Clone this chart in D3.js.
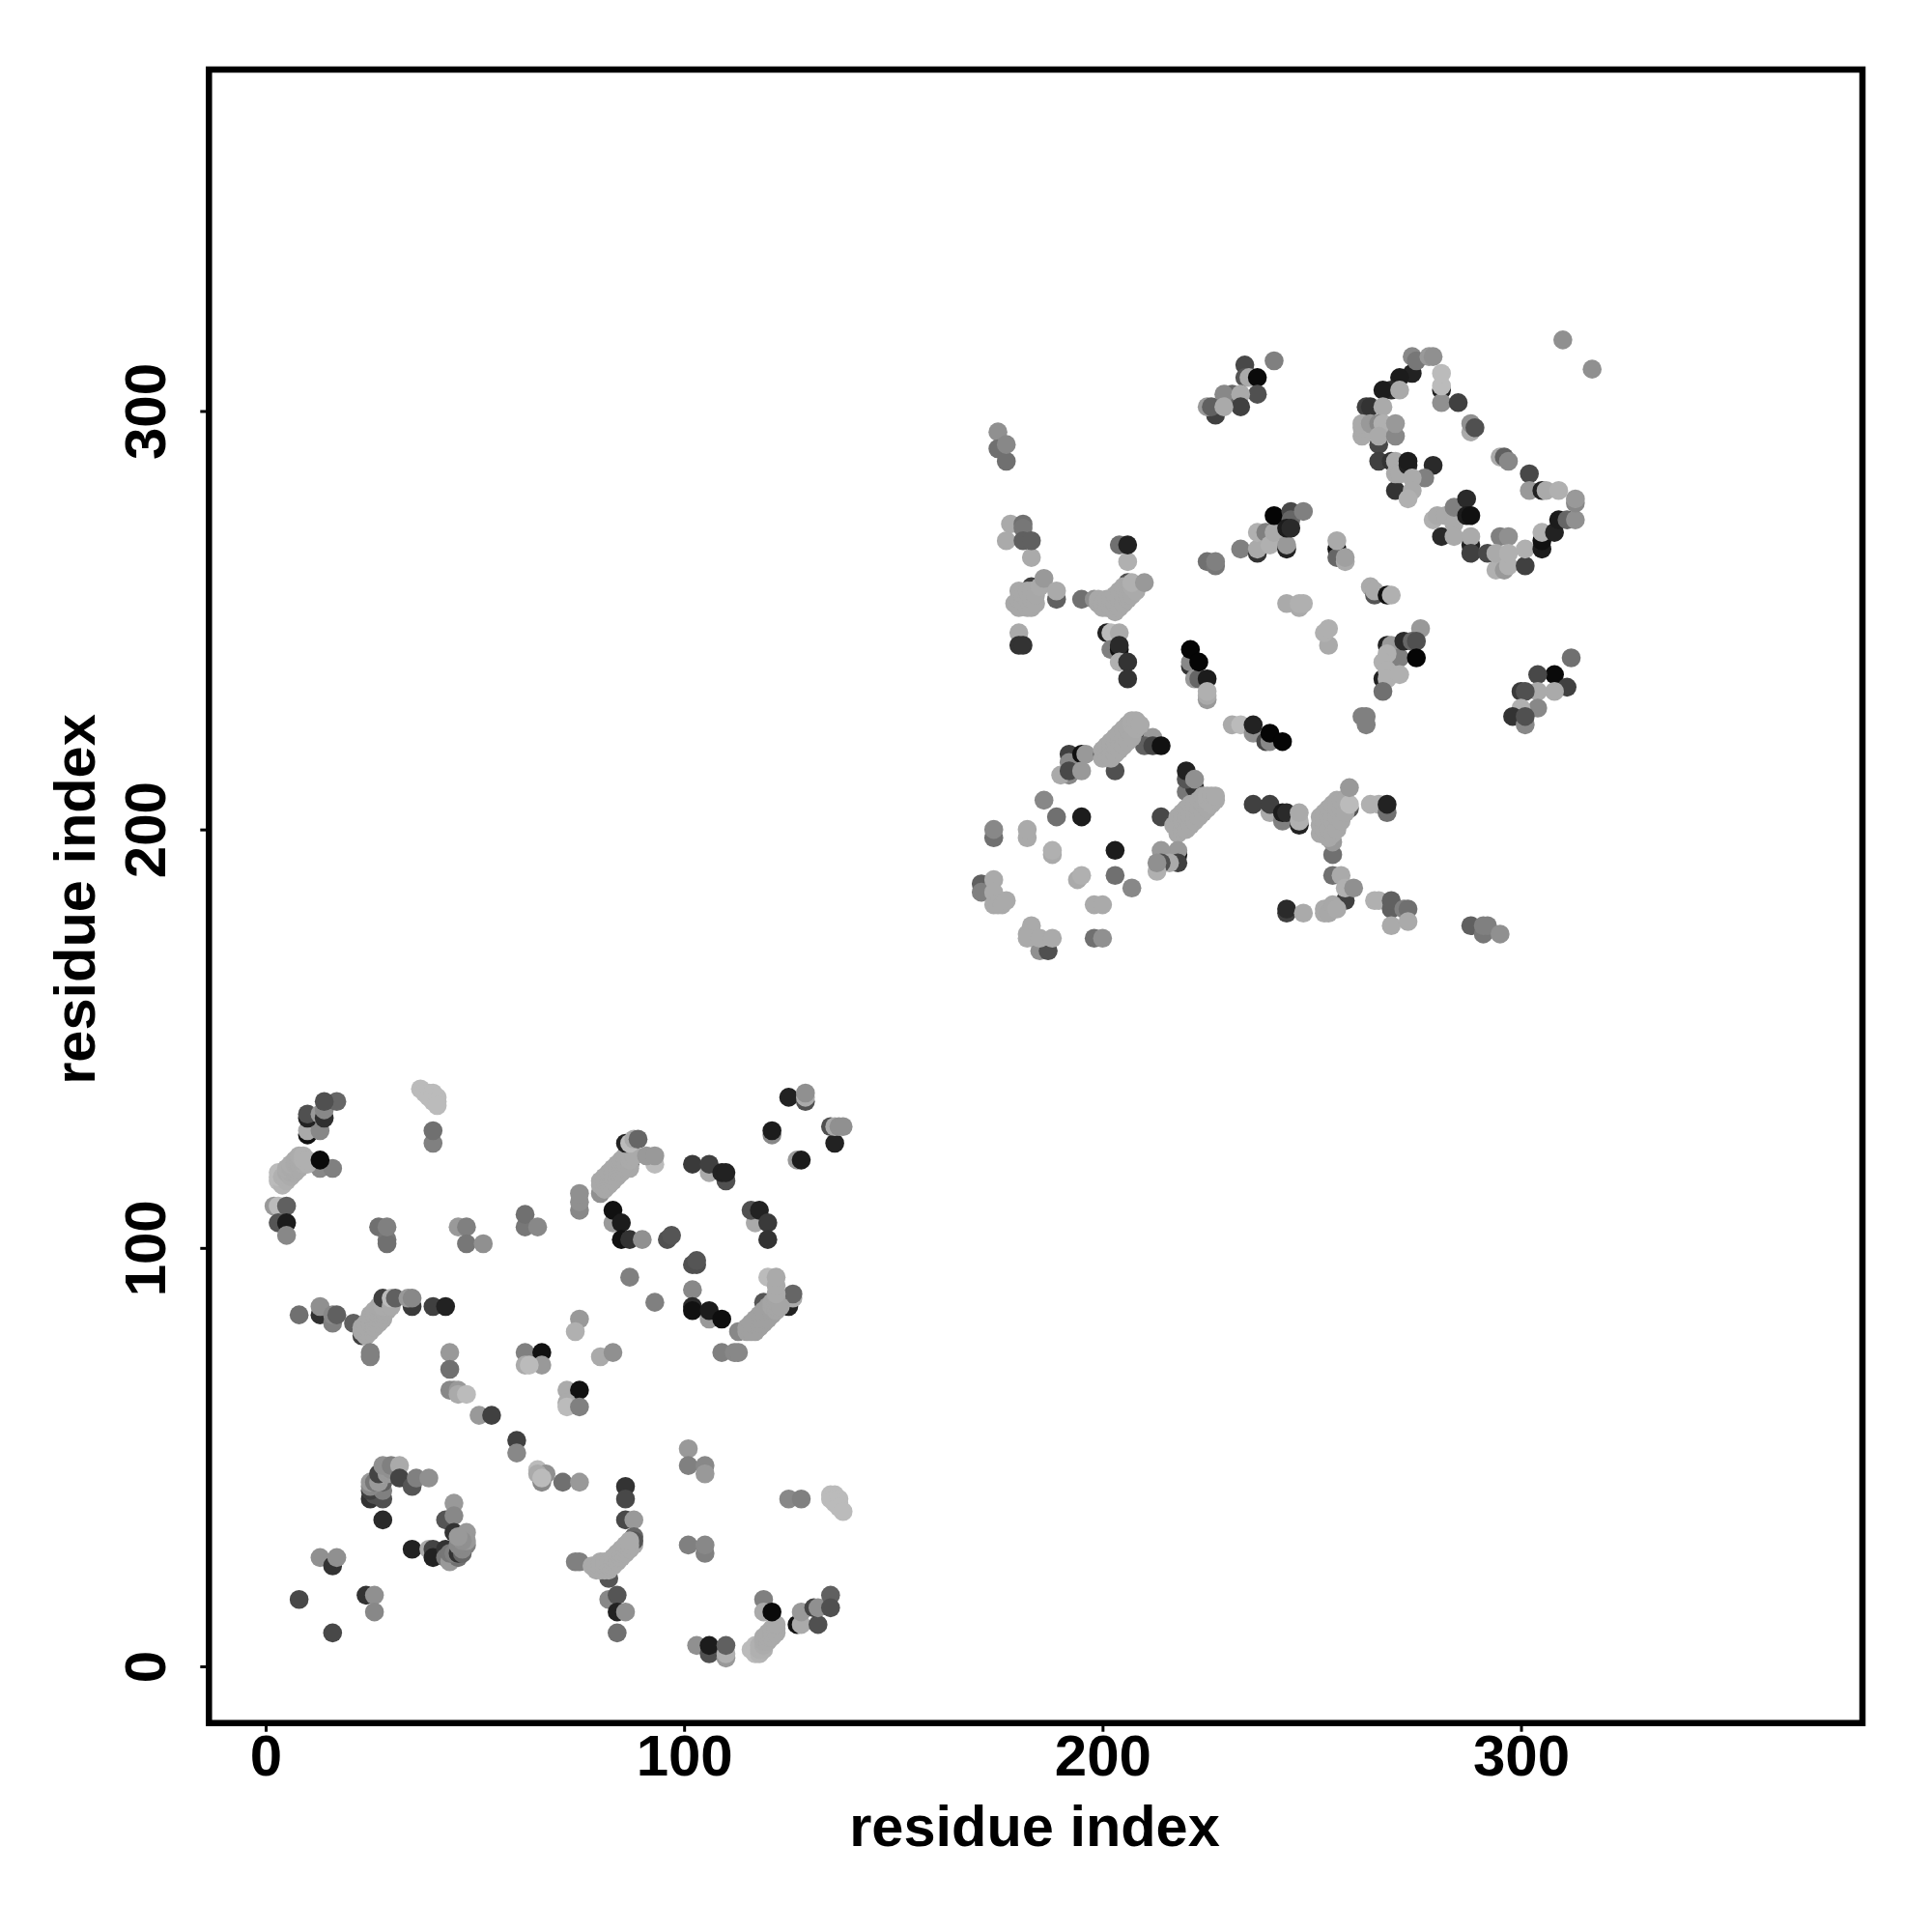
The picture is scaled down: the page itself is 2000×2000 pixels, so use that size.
<!DOCTYPE html>
<html><head><meta charset="utf-8">
<script src="https://cdn.jsdelivr.net/npm/d3@7/dist/d3.min.js"></script>
<style>html,body{margin:0;padding:0;background:#fff}</style></head>
<body><script>
// each entry: [residue x, residue y, grey level]
const lowerTopLeft=[[10,127,17],[10,128,170],[13,128,136],[10,131,34],[10,132,80],[13,132,153],[14,131,48],[14,133,136],[17,135,102],[14,135,80],
[13,119,136],[16,119,128],[3,116,187],[4,116,176],[4,115,180],[3,117,187],[3,118,187],[4,117,176],[5,116,176],[5,117,176],[5,118,170],[6,117,172],[6,118,170],[5,119,172],[6,119,170],[7,118,170],[7,119,170],[6,120,172],[7,120,170],[8,119,170],[7,121,170],[8,120,170],[9,120,172],[8,121,170],[8,122,172],[9,121,176],[9,122,176],[10,120,176],[10,121,176],[13,121,10],
[2,110,153],[3,110,187],[5,110,96],[3,106,85],[5,106,28],[5,103,136]];
const lowerY105=[[27,105,112],[29,102,119],[29,101,112],[29,105,128],[46,105,153],[48,105,128],[48,101,119],[52,101,144],[62,105,119],[62,108,112],[65,105,136],
[37,138,187],[38,137,187],[39,137,187],[39,136,187],[40,137,187],[40,136,187],[41,136,187],[40,135,187],[41,135,187],[41,134,187],[40,125,128],[40,128,112]];
const lowerRow85=[[8,84,112],[13,84,48],[13,86,144],[16,82,128],[16,84,136],[17,84,96],[21,82,96],[23,79,64],[23,80,168],[24,79,168],[24,80,168],[23,81,168],[24,81,168],[25,80,168],[25,81,168],[24,82,168],[25,82,168],[26,81,168],[25,83,168],[26,82,168],[26,83,168],[25,84,168],[26,84,168],[27,82,168],[27,83,168],[27,84,168],[26,85,168],[27,85,168],[28,83,168],[28,84,168],[28,85,168],[27,86,168],[29,85,168],[28,86,170],
[28,88,64],[30,86,170],[30,88,187],[31,88,96],[35,86,58],[34,88,153],[35,88,136],[40,86,64],[43,86,34],[25,74,128],[25,75,128]];
const lowerDiag=[[44,75,153],[44,71,112],[44,66,136],[45,66,136],[46,66,153],[46,65,170],[48,65,187],[51,60,153],[54,60,64],[60,54,64],[60,51,136],[65,47,187],[66,44,136],[67,46,144],[65,46,170],[66,45,187],[71,44,112],[75,44,153],
[62,75,128],[66,75,17],[62,72,170],[66,72,153],[63,72,187],[75,83,153],[74,80,176],[80,74,170],[83,75,144],[72,66,170],[75,66,17],[72,63,170],[72,62,187],[75,62,128]];
const lowerArc=[[28,35,42],[25,40,51],[26,41,80],[28,40,80],[25,42,64],[28,42,128],[25,43,136],[25,44,153],[26,44,119],[28,44,96],[27,44,153],[28,46,170],[27,46,68],[29,46,153],[29,47,153],[30,47,144],[28,48,144],[30,48,128],[32,48,170],[32,45,68],[35,43,85],[36,45,128],[39,45,144],
[45,39,153],[43,35,85],[45,36,136],[45,32,51],[48,32,153],[48,29,128],[35,28,34],[39,28,170],[40,28,68],[40,26,34],[43,28,51],[43,26,119],[44,25,153],[46,26,112],[44,27,119],[45,27,128],[46,27,51],[47,27,102],[47,28,136],[46,29,136],[48,30,153],[47,30,144],[46,31,153],
[13,26,144],[16,24,51],[17,26,144],[8,16,72],[24,17,51],[26,17,144],[26,13,136],[16,8,72]];
const lowerMid=[[86,43,51],[86,40,72],[86,35,72],[88,35,153],[88,31,102],[88,29,170],[88,30,85],[74,25,128],[75,25,128],[82,21,85],[78,24,170],[79,23,170],[79,24,170],[80,23,170],[80,24,170],[80,25,170],[81,23,170],[81,24,170],[81,25,170],[82,23,170],[82,24,170],[82,25,170],[83,24,170],[83,25,170],[83,26,170],[84,25,170],[84,26,170],[84,27,170],[85,26,170],[85,27,170],[85,28,170],[86,27,170],[86,28,170],[86,29,170],[87,28,170],[87,29,170],[87,30,170],
[82,16,136],[84,17,85],[84,13,34],[86,13,144],[84,8,112],[101,52,153],[101,48,128],[105,48,136],[105,46,153],[125,40,136],[128,40,128],[135,41,187],[135,40,187],[136,41,187],[136,40,187],[137,40,187],[136,39,187],[137,39,187],[137,38,187],[138,37,187],
[101,29,128],[105,27,128],[105,29,136],[103,5,144],[106,3,80],[106,5,28],[110,2,153],[110,3,176],[110,5,96]];
const lowerCorner=[[116,4,187],[117,3,187],[117,4,187],[117,5,187],[118,3,180],[118,4,176],[118,5,176],[119,4,176],[119,5,172],[119,6,170],[119,7,170],[120,6,170],[120,7,170],[120,8,170],[121,7,170],[121,8,170],[121,9,170],[122,8,170],[122,9,170],[122,10,170],
[119,16,128],[119,13,170],[121,13,10],[127,10,17],[128,10,170],[128,13,153],[132,10,80],[131,14,68],[132,14,144],[135,17,96],[135,14,80]];
const lowerUpRight=[[125,136,34],[129,135,80],[129,136,170],[129,137,144],[121,127,136],[121,128,28],[127,121,153],[128,121,28],[136,125,34],[135,129,80],[136,129,170],[137,129,144],[138,129,144],
[106,118,170],[102,120,58],[106,120,64],[110,116,80],[109,118,34],[110,118,34],[117,106,170],[116,109,80],[118,109,34],[120,106,58],[120,102,51],
[83,106,153],[83,109,17],[85,106,28],[85,102,17],[87,102,51],[90,102,144],[96,102,80],[97,103,85],[102,96,80],[103,96,80],[103,97,85],[102,90,136],[102,86,42],[102,85,17],[106,83,153],[106,85,28],[109,83,14],[87,93,128],[93,87,128],
[109,75,128],[112,75,136],[113,75,136],[113,80,136],[119,87,85],[125,86,34],[126,88,170],[126,89,102],[120,93,187],
[115,80,160],[115,81,160],[116,80,160],[116,81,160],[116,82,160],[117,80,160],[117,81,160],[117,82,160],[117,83,160],[118,81,160],[118,82,160],[118,83,160],[118,84,160],[119,82,160],[119,83,160],[119,84,160],[119,85,160],[120,83,160],[120,84,160],[120,85,160],[120,86,160],[121,84,160],[121,85,160],[121,86,165],[121,87,165],[122,85,165],[122,86,165],[122,87,165],[122,88,165],[123,86,165],[122,89,170],[122,91,170],[122,93,170],
[75,109,136],[75,111,144],[75,113,144],[80,113,144],[80,115,168],[80,116,168],[81,114,168],[81,116,168],[81,117,168],[82,115,168],[82,116,168],[82,117,168],[82,118,168],[83,116,168],[83,117,168],[83,118,168],[83,119,168],[84,117,168],[84,118,168],[84,119,168],[84,120,168],[85,118,168],[85,119,168],[85,120,168],[85,121,168],
[87,120,68],[86,119,168],[87,119,168],[86,120,168],[86,121,168],[86,122,168],[87,121,170],[87,122,170],[88,122,170],[86,125,34],[87,125,187],[88,126,170],[89,126,102],[93,120,187],[91,122,153],[93,122,153]];
const upperFarRight=[[310,317,144],[317,310,144]];
const upperTop=[[241,312,128],[234,311,72],[234,308,85],[235,308,170],[237,308,10],[237,304,80],[231,304,102],[229,304,136],[233,304,170],[233,301,64],[227,299,64],[225,301,153],[226,301,96],[229,301,170],
[175,295,144],[175,291,112],[177,288,112],[177,292,136]];
const upperArc=[[274,309,34],[274,313,136],[275,312,119],[278,313,153],[279,313,144],[281,305,34],[281,302,144],[281,306,187],[281,309,187],[285,302,64],[271,308,28],[269,305,42],[267,305,28],[271,305,170],
[263,301,64],[264,301,51],[267,301,170],[266,292,72],[262,294,170],[262,296,170],[262,297,170],[264,297,153],[266,297,136],[267,297,176],[266,294,170],[270,294,136],[270,297,153],
[266,288,64],[269,288,51],[270,281,51],[270,288,170],[270,285,170],[271,285,170],[273,287,34],[273,288,28],[279,287,42],[277,284,128],[274,284,170],[274,281,170],[273,279,176],
[279,274,176],[280,275,170],[281,270,42],[282,275,170],[284,273,170],[284,270,170],[284,277,128],[287,279,42],[288,268,34],[288,270,170],[287,275,28],[288,275,17],[288,266,64],[292,266,72],
[295,270,128],[297,270,144],[294,262,176],[296,262,153],[294,266,170],[297,263,176],[297,266,176],[301,263,64],[301,267,176],[305,267,28],[305,269,17],[305,271,176],[308,271,34],[309,274,28],[311,274,102],[313,274,144],[313,278,136],[313,279,153],
[302,285,72],[302,281,153],[305,281,34],[306,281,170],[309,281,176],[295,289,170],[296,289,96],[297,288,136],[288,295,170],[288,297,144],[289,296,80]];
const upperMidLeft=[[178,273,170],[181,273,112],[181,272,119],[177,269,170],[181,269,96],[183,265,170],[183,269,96],[204,268,112],[206,264,176],[206,268,34],
[183,258,64],[189,255,96],[179,254,168],[180,253,168],[180,255,168],[180,257,168],[181,254,168],[182,253,168],[181,256,168],[182,255,168],[182,257,168],[183,253,168],[183,255,168],[183,257,168],[184,254,168],[184,256,168],[185,258,170],[186,260,153],[189,257,170],
[195,255,112],[198,255,144],[206,259,80],[199,254,168],[199,255,168],[200,253,168],[200,254,168],[201,253,168],[201,254,168],[201,255,168],[202,253,168],[202,255,168],[203,252,168],[203,254,168],[203,256,168],[204,253,168],[204,255,168],[204,257,168],[205,254,168],[205,256,168],[205,258,168],[206,255,168],[206,256,168],[206,258,168],[207,256,168],[207,258,170],[208,257,170],[207,259,176],[210,259,153],
[225,264,112],[227,263,119],[227,264,128]];
const upperMidRight=[[233,267,128],[237,266,51],[237,267,170],[237,271,176],[239,271,128],[240,268,176],[241,271,170],[244,267,34],[244,268,153],[241,275,5],[245,276,72],[245,274,102],[244,272,28],[245,272,42],[248,276,128],
[256,267,17],[256,265,102],[256,269,170],[258,264,170],[258,265,160],[264,258,170],[265,256,85],[265,257,170],[268,256,17],[269,256,176],
[244,254,170],[247,253,170],[247,254,176],[248,254,176],[254,244,170],[253,247,176],[254,248,176]];
const upperCentre=[[180,247,170],[180,244,51],[181,244,51],[201,247,34],[202,247,187],[204,247,170],[202,243,128],[204,243,17],[204,244,42],[204,240,176],[206,240,51],[206,236,51],
[221,239,51],[221,240,136],[221,243,5],[222,236,153],[223,236,102],[223,240,5],[225,236,28],[225,231,153],[225,232,170],[225,233,176],
[276,248,153],[268,244,34],[269,244,153],[271,241,128],[272,245,42],[274,245,102],[275,245,80],[275,241,5],[267,236,34],[268,242,176],[267,240,176],[268,238,176],[268,236,176],[271,237,176],[267,233,112],
[263,227,128],[262,227,128],[263,225,128],
[312,241,112],[308,237,10],[304,237,72],[311,234,64],[308,233,170],[304,233,170],[300,233,58],[301,233,80],[304,229,136],[300,229,176],[298,227,51],[301,225,136],[301,227,80]];
const upperRing=[[210,222,51],[212,222,153],[210,220,96],[212,220,68],[214,220,17],[192,218,64],[192,213,136],[192,216,136],[195,218,17],[196,218,153],[190,213,170],[192,214,72],[195,214,153],[200,218,64],[203,214,80],
[200,217,168],[200,219,168],[201,218,168],[201,219,168],[201,220,168],[202,217,168],[202,219,168],[202,220,168],[202,221,168],[203,218,168],[203,220,168],[203,221,168],[203,222,168],[204,219,168],[204,221,168],[204,222,168],[204,223,168],[205,220,168],[205,223,168],[205,224,168],[206,221,168],[206,224,168],[206,225,168],[207,222,168],[207,225,170],[207,226,170],[208,224,170],[208,226,170],[209,225,170],
[186,207,136],[189,203,112],[195,203,28],[214,203,72],[203,195,28],[203,189,112],[207,186,136],[174,198,112],[174,200,136],[182,198,170],[182,200,170],[188,194,170],[188,195,176],[194,188,170],[195,189,176],[198,182,170],[200,182,170],[198,174,112],[200,174,144],
[220,209,119],[222,210,51],[220,212,85],[220,214,34],[222,212,144],[218,200,64],
[218,199,168],[217,201,168],[218,201,168],[218,203,168],[219,200,168],[219,201,168],[219,202,168],[219,204,168],[220,200,168],[220,202,168],[220,203,168],[220,205,168],[221,201,168],[221,203,168],[221,204,168],[221,206,168],[222,202,168],[222,204,168],[222,206,168],[223,203,168],[223,205,168],[223,207,168],[224,204,168],[224,206,168],[224,208,168],[225,205,168],[225,207,170],[225,208,170],[226,206,170],[226,208,170],[227,207,170],[227,208,170],
[218,194,17],[218,195,153],[214,195,153],[218,192,64],[216,192,170],[214,192,80],[213,190,176],[213,192,144]];
const upperBottomLeft=[[171,187,96],[171,185,128],[174,188,170],[174,185,170],[174,182,170],[175,182,170],[176,182,170],[177,183,170],[185,171,144],[187,171,80],[183,177,170],[182,175,170],[182,174,170],[185,174,170],[188,174,170]];
const upperX=[[236,206,64],[240,204,170],[240,206,64],[243,202,128],[243,204,28],[244,204,42],[247,201,34],[247,202,176],[247,204,170],[259,205,85],[255,194,112],[255,197,153],
[252,199,168],[252,201,168],[252,203,168],[253,200,168],[253,201,168],[253,202,168],[253,204,168],[254,198,168],[254,200,168],[254,203,168],[254,205,168],[255,199,168],[255,202,168],[255,204,168],[255,206,168],[256,200,168],[256,203,168],[256,205,168],[256,207,168],[257,202,168],[257,205,168],[257,207,168],[258,204,168],[258,207,168],[259,206,187],[259,210,153],
[264,206,176],[266,206,176],[268,204,112],[268,206,34],[255,189,112],[257,189,170],[258,183,64],[258,186,176],[260,186,144],[253,181,170],[253,180,170],[254,180,168],[255,182,168],[256,181,170],
[244,180,64],[244,181,42],[248,180,170],[265,183,176],[266,183,176],[269,181,96],[269,183,96],[272,181,128],[273,181,112],[269,177,170],[273,178,170],
[288,177,96],[291,175,119],[291,177,128],[292,177,128],[295,175,144],
[231,225,170],[233,225,187],[236,223,144],[236,225,34],[239,221,72],[240,221,136],[240,223,5],[243,221,5]];

const clusters=[lowerTopLeft,lowerY105,lowerRow85,lowerDiag,lowerArc,lowerMid,lowerCorner,lowerUpRight,upperFarRight,upperTop,upperArc,upperMidLeft,upperMidRight,upperCentre,upperRing,upperBottomLeft,upperX];
const tickValues=[0,100,200,300];
const axisLabel="residue index";

const W=2000,H=2000,panelL=216.3,panelR=1928,panelT=72,panelB=1783.7;
const xScale=d3.scaleLinear().domain([-13.55,381.6]).range([panelL,panelR]);
const yScale=d3.scaleLinear().domain([-13.55,381.6]).range([panelB,panelT]);
const grey=v=>d3.rgb(v,v,v).formatHex();
const FONT='"Liberation Sans",Arial,sans-serif';
const svg=d3.select("body").append("svg").attr("width",W).attr("height",H).style("display","block");
svg.append("rect").attr("width",W).attr("height",H).attr("fill","#fff");
svg.append("g").selectAll("circle").data(clusters.flat()).join("circle")
  .attr("cx",d=>xScale(d[0])).attr("cy",d=>yScale(d[1])).attr("r",9.8).attr("fill",d=>grey(d[2]));
svg.append("rect").attr("x",panelL).attr("y",panelT).attr("width",panelR-panelL).attr("height",panelB-panelT)
  .attr("fill","none").attr("stroke","#000").attr("stroke-width",6.5);
const gx=svg.append("g").attr("transform",`translate(0,${panelB})`).call(d3.axisBottom(xScale).tickValues(tickValues).tickSize(9));
const gy=svg.append("g").attr("transform",`translate(${panelL},0)`).call(d3.axisLeft(yScale).tickValues(tickValues).tickSize(9));
[gx,gy].forEach(g=>{g.select(".domain").remove();
 g.selectAll(".tick line").attr("stroke","#000").attr("stroke-width",3);
 g.selectAll("text").attr("fill","#000").style("font",`bold 60px ${FONT}`);});
gx.selectAll("text").attr("dy",null).attr("y",1838-panelB);
gy.selectAll("text").attr("x",null).attr("dy",null).attr("text-anchor","middle").attr("transform",`translate(${171-panelL},0) rotate(-90)`);
svg.append("text").attr("x",1071).attr("y",1911).attr("text-anchor","middle").attr("fill","#000").style("font",`bold 59.5px ${FONT}`).text(axisLabel);
svg.append("text").attr("transform","translate(98,931) rotate(-90)").attr("text-anchor","middle").attr("fill","#000").style("font",`bold 59.5px ${FONT}`).text(axisLabel);
</script></body></html>
